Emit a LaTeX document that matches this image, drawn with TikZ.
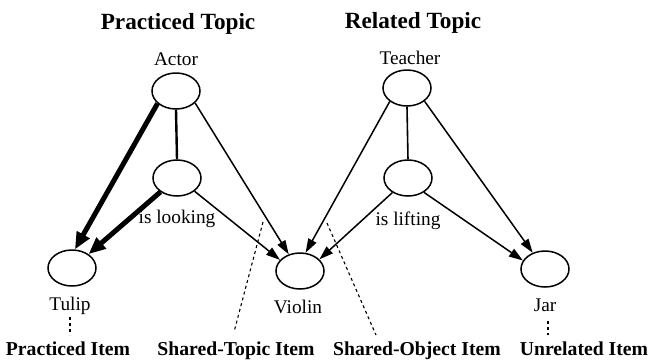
\documentclass[tikz,border=0pt]{standalone}
\usepackage{fontspec}
\setmainfont{Liberation Serif}
\usetikzlibrary{shapes.geometric,arrows.meta}

\tikzset{
  concept/.style={draw, ellipse, minimum width=48pt, minimum height=36pt,
                  inner sep=0pt, line width=1.5pt},
  lbl/.style={anchor=base, inner sep=0pt, font=\fontsize{19.3}{22}\selectfont},
  itemlbl/.style={anchor=base, inner sep=0pt, font=\fontsize{19.7}{22}\selectfont\bfseries},
  headlbl/.style={anchor=base, inner sep=0pt, font=\fontsize{23.2}{26}\selectfont\bfseries},
  thinarrow/.style={line width=1.5pt, -{Triangle[length=14pt,width=9pt]}},
  thickarrow/.style={line width=5pt, -{Triangle[length=17pt,width=14pt]}},
  link/.style={line width=1.6pt},
  guide/.style={line width=1.1pt, dash pattern=on 3pt off 3pt}
}

\begin{document}
\begin{tikzpicture}[x=1pt, y=-1pt]
\useasboundingbox (0,0) rectangle (649,360);

% headings
\node[headlbl] (pt) at (178,29) {Practiced Topic};
\node[headlbl] (rt) at (413,28) {Related Topic};

% concept nodes
\node[concept] (actor)   at (176,91)  {};
\node[concept] (lmid)    at (177,178) {};
\node[concept] (tulip)   at (72,268)  {};
\node[concept] (violin)  at (300,271) {};
\node[concept] (teacher) at (407,88)  {};
\node[concept] (rmid)    at (408,178) {};
\node[concept] (jar)     at (545,269) {};

% node labels
\node[lbl] (actorl)   at (176,65)  {Actor};
\node[lbl] (teacherl) at (410,64)  {Teacher};
\node[lbl] (lookl)    at (177,223) {is looking};
\node[lbl] (liftl)    at (408,225) {is lifting};
\node[lbl] (tulipl)   at (70,310)  {Tulip};
\node[lbl] (violinl)  at (298,313) {Violin};
\node[lbl] (jarl)     at (545,311) {Jar};

% item categories
\node[itemlbl] (pitem) at (68,355)  {Practiced Item};
\node[itemlbl] (stitem) at (236,355) {Shared-Topic Item};
\node[itemlbl] (soitem) at (417,355) {Shared-Object Item};
\node[itemlbl] (uitem) at (584,355) {Unrelated Item};

% practiced topic
\draw[thickarrow] (actor.214) -- (tulip.81);
\draw[link, line width=2.4pt] (actor.-90) -- (lmid.90);
\draw[thinarrow] (actor.-32) -- (violin.124);
\draw[thickarrow] (lmid.220) -- (tulip.40);
\draw[thinarrow] (lmid.-37) -- (violin.151);

% related topic
\draw[thinarrow] (teacher.218) -- (violin.73);
\draw[link] (teacher.-90) -- (rmid.90);
\draw[thinarrow] (teacher.-37) -- (jar.127);
\draw[thinarrow] (rmid.223) -- (violin.31);
\draw[thinarrow] (rmid.-42) -- (jar.159);

% dotted guides to the item categories
\coordinate (t1) at (70,317);  \coordinate (t2) at (70,335);
\coordinate (s1) at (263,222); \coordinate (s2) at (234,332);
\coordinate (o1) at (327,223); \coordinate (o2) at (376,335);
\coordinate (j1) at (548,321); \coordinate (j2) at (548,335);
\draw[guide] (t1) -- (t2);
\draw[guide] (s1) -- (s2);
\draw[guide] (o1) -- (o2);
\draw[guide] (j1) -- (j2);
\end{tikzpicture}
\end{document}
